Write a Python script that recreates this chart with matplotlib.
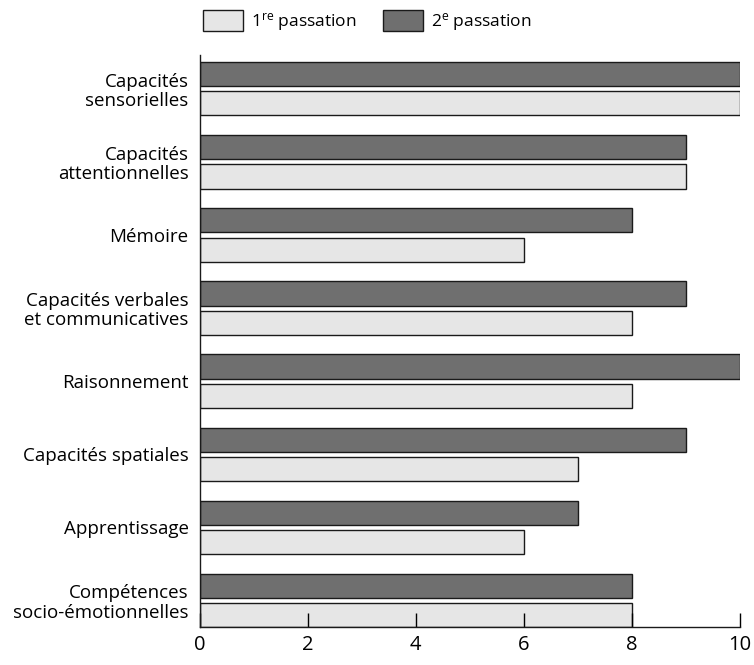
import matplotlib
matplotlib.use("Agg")
import matplotlib.pyplot as plt
from matplotlib.patches import Patch

plt.rcParams.update({
    "font.family": ["Open Sans", "DejaVu Sans"],
    "font.size": 13.5,
    "mathtext.default": "regular",
})

categories = [
    "Capacités\nsensorielles",
    "Capacités\nattentionnelles",
    "Mémoire",
    "Capacités verbales\net communicatives",
    "Raisonnement",
    "Capacités spatiales",
    "Apprentissage",
    "Compétences\nsocio-émotionnelles",
]
passation_1 = [10, 9, 6, 8, 8, 7, 6, 8]
passation_2 = [10, 9, 8, 9, 10, 9, 7, 8]
x_ticks = [0, 2, 4, 6, 8, 10]

LIGHT = "#E6E6E6"
DARK = "#6F6F6F"
EDGE = "#1A1A1A"

fig = plt.figure(figsize=(7.54, 6.65), dpi=100)
ax = fig.add_axes([0.265, 0.057, 0.716, 0.86])

pos = list(range(len(categories)))
h = 0.33
ax.barh([p + 0.2 for p in pos], passation_1, height=h, color=LIGHT, edgecolor=EDGE, lw=1)
ax.barh([p - 0.2 for p in pos], passation_2, height=h, color=DARK, edgecolor=EDGE, lw=1)

ax.set_ylim(7.2 + h / 2, -0.46)
ax.set_xlim(0, 10)
ax.set_yticks(pos)
ax.set_yticklabels(categories, ha="right", linespacing=1.1)
ax.tick_params(axis="y", length=0, pad=8)
ax.set_xticks(x_ticks)
ax.tick_params(axis="x", direction="in", length=10, pad=6, width=1, labelsize=14.5)

for s in ["top", "right"]:
    ax.spines[s].set_visible(False)
for s in ["left", "bottom"]:
    ax.spines[s].set_linewidth(1)
    ax.spines[s].set_color(EDGE)

handles = [Patch(facecolor=LIGHT, edgecolor=EDGE, lw=1),
           Patch(facecolor=DARK, edgecolor=EDGE, lw=1)]
fig.legend(handles, ["1$^{re}$ passation", "2$^{e}$ passation"],
           loc="upper left", bbox_to_anchor=(0.249, 1.008), ncol=2, frameon=False,
           handlelength=2.3, handleheight=1.5, handletextpad=0.45, columnspacing=1.5,
           fontsize=12.5)

fig.savefig("out.png", dpi=100)
